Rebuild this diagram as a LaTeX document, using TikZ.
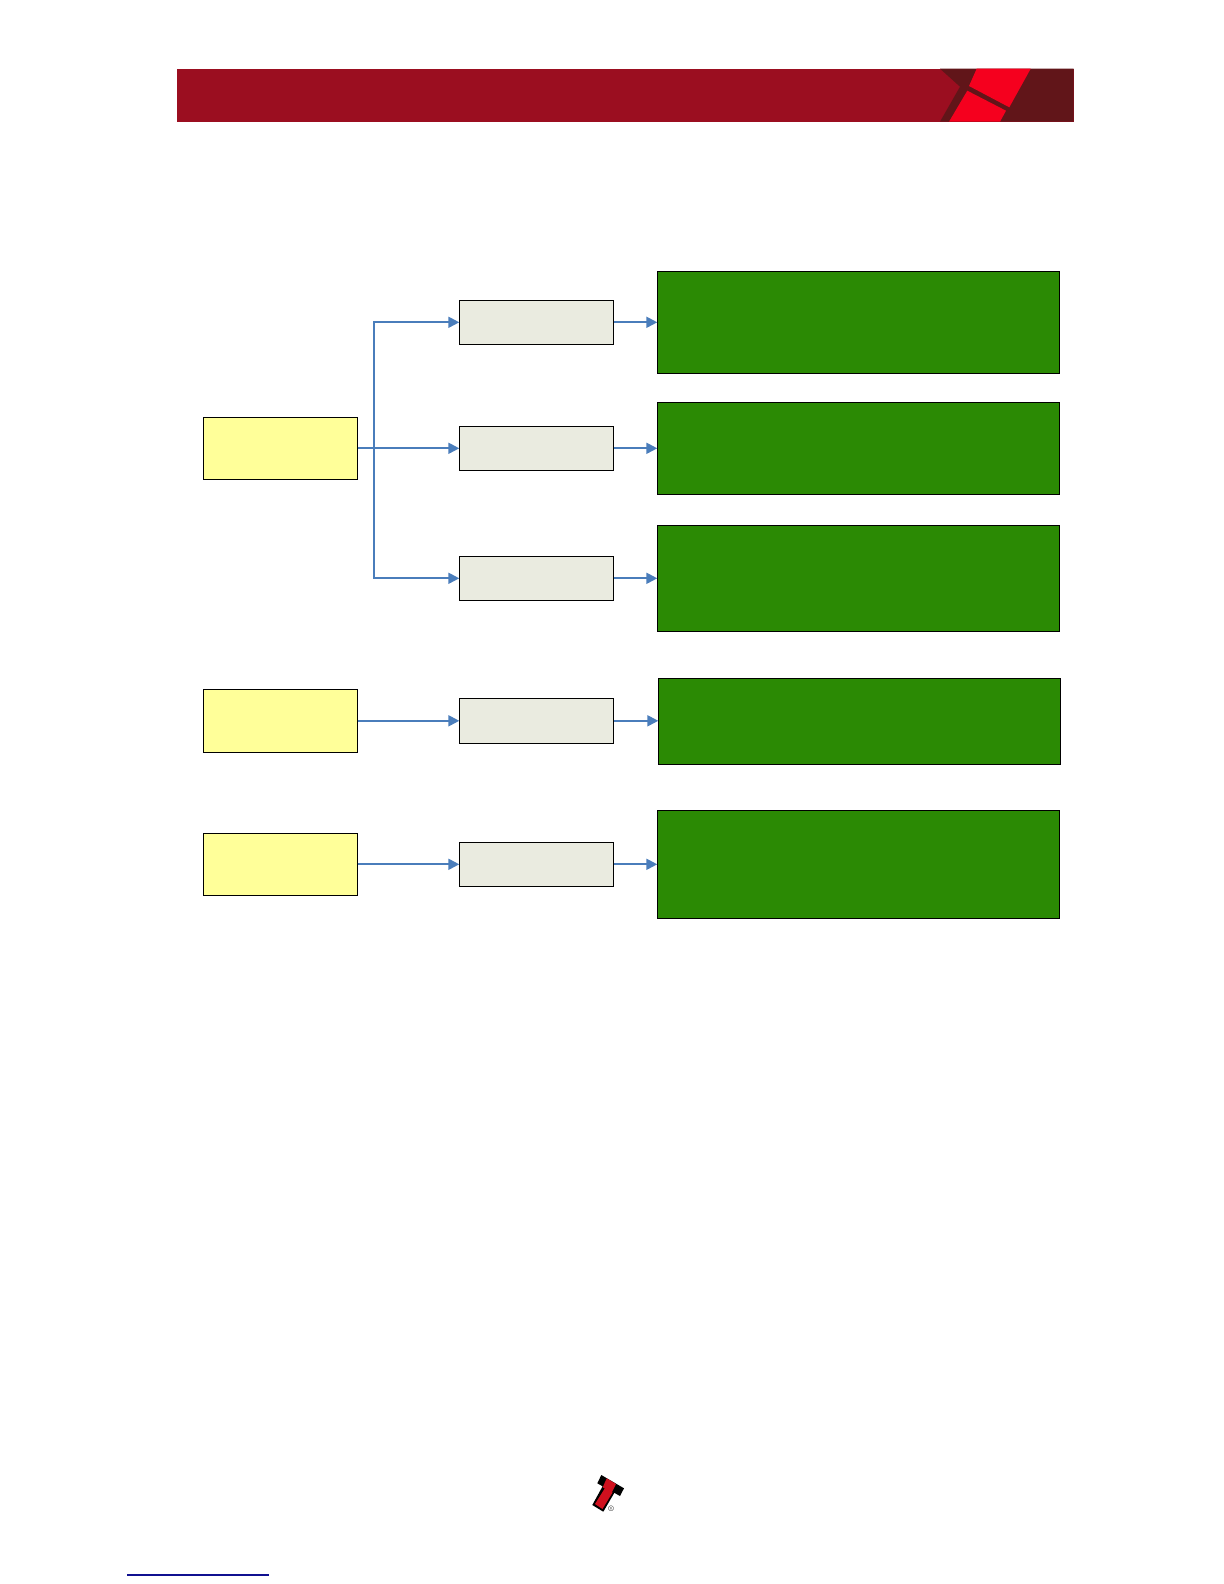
\documentclass[tikz,border=0pt]{standalone}
\usepackage{xcolor}
\usetikzlibrary{arrows.meta, positioning}
\definecolor{bandred}{HTML}{9B0E20}
\definecolor{bandmaroon}{HTML}{611519}
\definecolor{brightred}{HTML}{F5001E}
\definecolor{logored}{HTML}{D0101E}
\definecolor{boxyellow}{HTML}{FFFF99}
\definecolor{boxgrey}{HTML}{EAEBE0}
\definecolor{boxgreen}{HTML}{2B8A04}
\definecolor{linkblue}{HTML}{4A7DBB}
\definecolor{rulenavy}{HTML}{101090}
\tikzstyle{source} = [rectangle, 
minimum width=77.2pt, 
minimum height=31pt, 
outer sep=0pt, 
line width=0.5pt, 
fill=boxyellow, 
draw=black]
\tikzstyle{middle} = [rectangle, 
minimum width=77.2pt, 
minimum height=22pt, 
outer sep=0pt, 
line width=0.5pt, 
fill=boxgrey, 
draw=black]
\tikzstyle{result} = [rectangle, 
minimum width=201pt, 
outer sep=0pt, 
line width=0.5pt, 
fill=boxgreen, 
draw=black]
\tikzstyle{arrow} = [line width=1pt, draw=linkblue, -{Triangle[length=5.5pt,width=5.5pt]}]

\begin{document}
\begin{tikzpicture}[x=0.5pt, y=-0.5pt]
        \useasboundingbox (0,0) rectangle (1224,1584);

        % --- Page header and footer ---
        \fill [bandred] (177,68.7) rectangle (1073.7,121.7);
        \fill [bandmaroon] (940,68.7) -- (1073.7,68.7) -- (1073.7,121.7) -- (940,121.7) -- (960,86.7) -- cycle;
        \fill [brightred] (976.7,68.7) -- (1030.7,68.7) -- (1009.3,107.3) -- (969,86) -- cycle;
        \fill [brightred] (967.3,90.7) -- (1006,110.7) -- (1000,121.7) -- (949,121.7) -- cycle;
        \fill [black] (601.3,1475) -- (624,1488.3) -- (620,1496) -- (597.3,1483.3) -- cycle;
        \fill [black] (603.3,1485) -- (615,1491.7) -- (603.3,1511.7) -- (592.3,1505) -- cycle;
        \fill [logored] (605,1488) -- (612.5,1492.5) -- (602.5,1509) -- (595,1504) -- cycle;
        \fill [logored] (606.7,1478.3) -- (616,1484) -- (611.7,1492.7) -- (602.7,1487.3) -- cycle;
        \node (regmark) [inner sep=0pt, text=black!80] at (611,1508.3) {\fontsize{4}{4}\selectfont\textregistered};
        \fill [rulenavy] (127.3,1574.3) rectangle (268.7,1575.7);

        % --- Nodes ---
        \node (yellowA) [source] at (280.5,448.3) {};
        \node (greyB) [middle, right=50.8pt of yellowA] {};
        \node (greyA) [middle, above=41pt of greyB] {};
        \node (greyC) [middle, below=43pt of greyB] {};
        \node (greyD) [middle, below=49pt of greyC, minimum height=22.5pt] {};
        \node (greyE) [middle, below=49.5pt of greyD] {};

        \node (yellowB) [source, left=50.8pt of greyD, minimum height=31.5pt] {};
        \node (yellowC) [source, left=50.8pt of greyE] {};

        \node (greenA) [result, right=21.8pt of greyA, minimum height=51pt] {};
        \node (greenB) [result, right=21.8pt of greyB, minimum height=46pt] {};
        \node (greenC) [result, right=21.8pt of greyC, minimum height=53pt] {};
        \node (greenD) [result, right=21.8pt of greyD, xshift=0.5pt, yshift=-0.25pt, minimum height=43pt] {};
        \node (greenE) [result, right=21.8pt of greyE, minimum height=54pt] {};

        \coordinate (branch) at ([xshift=8pt]yellowA.east);

        % --- Connectors ---
        \draw [arrow] (yellowA) -- (greyB);
        \draw [arrow] (branch) |- (greyA.west);
        \draw [arrow] (branch) |- (greyC.west);
        \draw [arrow] (yellowB) -- (greyD);
        \draw [arrow] (yellowC) -- (greyE);

        \draw [arrow] (greyA) -- (greenA);
        \draw [arrow] (greyB) -- (greenB);
        \draw [arrow] (greyC) -- (greenC);
        \draw [arrow] (greyD) -- (greenD.west |- greyD);
        \draw [arrow] (greyE) -- (greenE);

\end{tikzpicture}
\end{document}
